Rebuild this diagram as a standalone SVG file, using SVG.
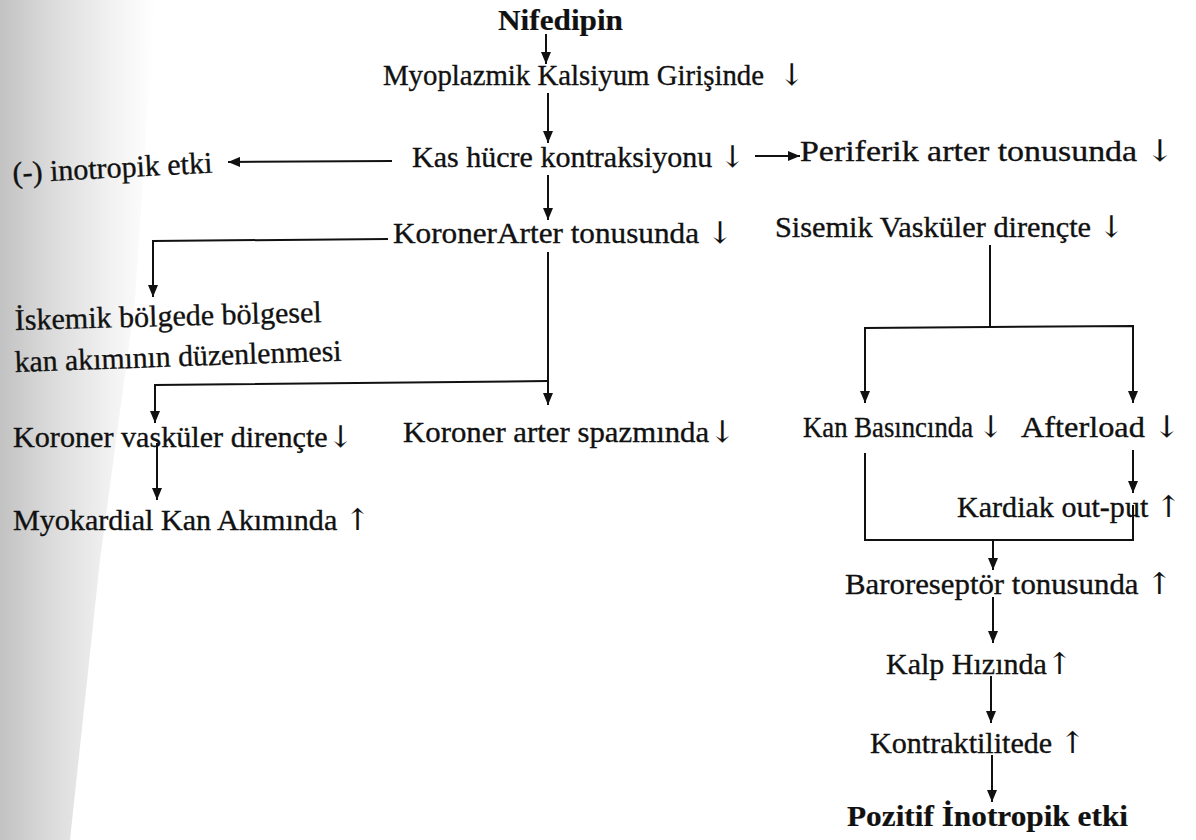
<svg xmlns="http://www.w3.org/2000/svg" width="1196" height="840" viewBox="0 0 1196 840">
<defs>
<linearGradient id="scan" x1="0" y1="0" x2="1" y2="0">
<stop offset="0" stop-color="#c2c2c2"/>
<stop offset="0.3" stop-color="#d9d9d9"/>
<stop offset="0.7" stop-color="#f1f1f1"/>
<stop offset="1" stop-color="#ffffff"/>
</linearGradient>
<marker id="ah" markerUnits="userSpaceOnUse" markerWidth="12" markerHeight="10" refX="12" refY="5" orient="auto">
<path d="M0,0 L12,5 L0,10 z" fill="#111"/>
</marker>
<style>
text{font-family:"Liberation Serif","Times New Roman",serif;font-size:30px;fill:#111;stroke:#111;stroke-width:0.35}
.b{font-weight:bold;stroke-width:0.2}
.ar{font-family:"DejaVu Serif","DejaVu Sans",serif;stroke-width:0.1}
.c{stroke:#111;stroke-width:2;fill:none}
.a{marker-end:url(#ah)}
</style>
</defs>
<rect width="1196" height="840" fill="#fff"/>
<polygon points="0,0 155,0 135,300 100,560 70,840 0,840" fill="url(#scan)"/>
<g id="connectors">
<line class="c a" x1="546" y1="34" x2="546" y2="64"/>
<line class="c a" x1="548" y1="93" x2="548" y2="143"/>
<line class="c a" x1="548" y1="175" x2="548" y2="220"/>
<line class="c a" x1="392" y1="161" x2="228" y2="162"/>
<line class="c a" x1="755" y1="156" x2="800" y2="156"/>
<polyline class="c a" points="388,239 153,241 153,297"/>
<line class="c a" x1="548" y1="252" x2="548" y2="405"/>
<polyline class="c a" points="548,381 155,385 155,423"/>
<line class="c a" x1="157" y1="443" x2="157" y2="500"/>
<line class="c" x1="990" y1="245" x2="990" y2="327"/>
<polyline class="c a" points="990,327 865,328 865,403"/>
<polyline class="c a" points="990,327 1133,326 1133,403"/>
<line class="c a" x1="1133" y1="450" x2="1133" y2="493"/>
<polyline class="c" points="865,453 865,540 1133,540 1133,505"/>
<line class="c a" x1="993" y1="540" x2="993" y2="570"/>
<line class="c a" x1="993" y1="597" x2="993" y2="643"/>
<line class="c a" x1="991" y1="676" x2="991" y2="723"/>
<line class="c a" x1="992" y1="755" x2="992" y2="802"/>
</g>
<g id="n-nifedipin"><text class="b" x="498" y="30" textLength="125" lengthAdjust="spacingAndGlyphs">Nifedipin</text></g>
<g id="n-myoplazmik"><text x="383" y="85" font-size="28.5" textLength="381" lengthAdjust="spacingAndGlyphs">Myoplazmik Kalsiyum Girişinde</text><text class="ar" x="779" y="85" font-size="28">↓</text></g>
<g id="n-kas"><text x="412" y="167" textLength="333" lengthAdjust="spacingAndGlyphs">Kas hücre kontraksiyonu <tspan class="ar">↓</tspan></text></g>
<g id="n-inotropik"><text x="13" y="183" textLength="200" lengthAdjust="spacingAndGlyphs" transform="rotate(-3 13 183)">(-) inotropik etki</text></g>
<g id="n-periferik"><text x="800" y="161" textLength="374" lengthAdjust="spacingAndGlyphs">Periferik arter tonusunda <tspan class="ar">↓</tspan></text></g>
<g id="n-koroner-arter"><text x="393" y="243" textLength="340" lengthAdjust="spacingAndGlyphs">KoronerArter tonusunda <tspan class="ar">↓</tspan></text></g>
<g id="n-sisemik"><text x="775" y="237" textLength="349" lengthAdjust="spacingAndGlyphs">Sisemik Vasküler dirençte <tspan class="ar">↓</tspan></text></g>
<g id="n-iskemik"><text x="15" y="330" textLength="307" lengthAdjust="spacingAndGlyphs" transform="rotate(-1.5 15 330)">İskemik bölgede bölgesel</text><text x="15" y="372" textLength="327" lengthAdjust="spacingAndGlyphs" transform="rotate(-2 15 372)">kan akımının düzenlenmesi</text></g>
<g id="n-koroner-vask"><text x="13" y="447" textLength="340" lengthAdjust="spacingAndGlyphs">Koroner vasküler dirençte<tspan class="ar">↓</tspan></text></g>
<g id="n-spazm"><text x="403" y="442" textLength="332" lengthAdjust="spacingAndGlyphs">Koroner arter spazmında<tspan class="ar">↓</tspan></text></g>
<g id="n-kanbas"><text x="803" y="437" font-size="26" textLength="170" lengthAdjust="spacingAndGlyphs">Kan Basıncında</text><text class="ar" x="978" y="437" font-size="26">↓</text></g>
<g id="n-afterload"><text x="1021" y="437" textLength="159" lengthAdjust="spacingAndGlyphs">Afterload <tspan class="ar">↓</tspan></text></g>
<g id="n-myokardial"><text x="13" y="530" textLength="357" lengthAdjust="spacingAndGlyphs">Myokardial Kan Akımında <tspan class="ar">↑</tspan></text></g>
<g id="n-kardiak"><text x="957" y="517" textLength="224" lengthAdjust="spacingAndGlyphs">Kardiak out-put <tspan class="ar">↑</tspan></text></g>
<g id="n-baro"><text x="845" y="594" textLength="327" lengthAdjust="spacingAndGlyphs">Baroreseptör tonusunda <tspan class="ar">↑</tspan></text></g>
<g id="n-kalp"><text x="886" y="674" textLength="186" lengthAdjust="spacingAndGlyphs">Kalp Hızında<tspan class="ar">↑</tspan></text></g>
<g id="n-kontrakt"><text x="870" y="753" textLength="215" lengthAdjust="spacingAndGlyphs">Kontraktilitede <tspan class="ar">↑</tspan></text></g>
<g id="n-pozitif"><text class="b" x="847" y="826" textLength="281" lengthAdjust="spacingAndGlyphs">Pozitif İnotropik etki</text></g>
</svg>
